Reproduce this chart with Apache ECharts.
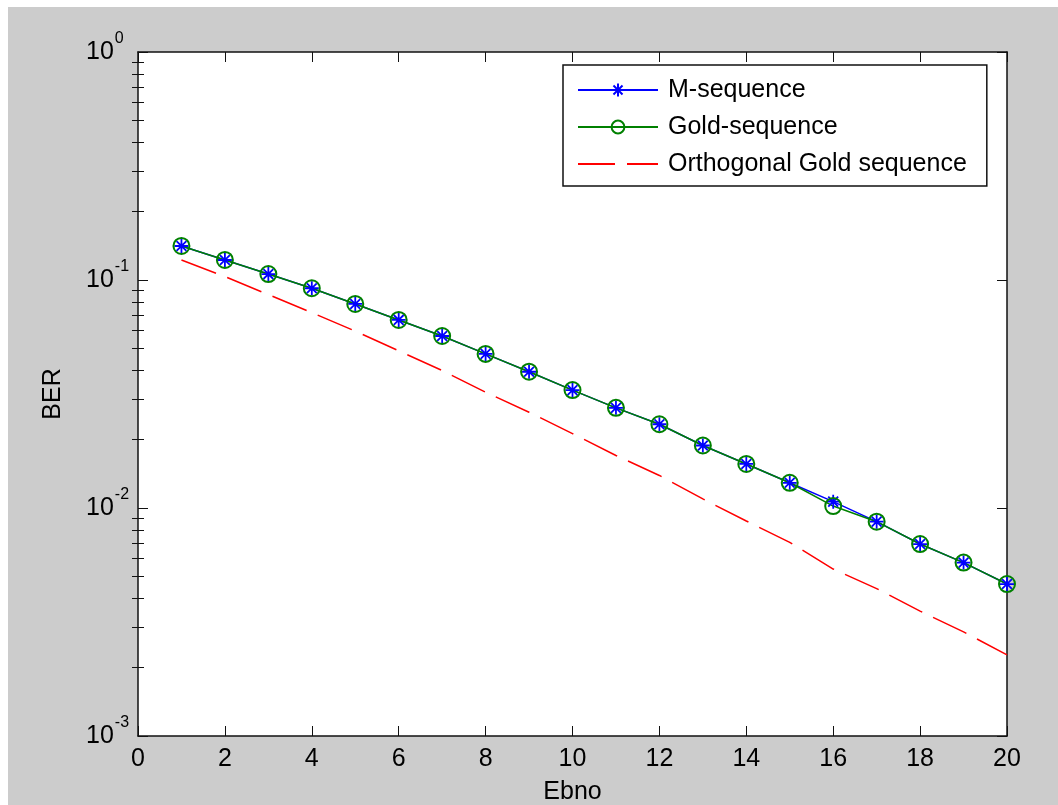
<!DOCTYPE html>
<html>
<head>
<meta charset="utf-8">
<script src="https://cdn.jsdelivr.net/npm/echarts@6/dist/echarts.min.js"></script>
<style>
html,body{margin:0;padding:0;background:#ffffff;width:1058px;height:805px;overflow:hidden;}
#chart{position:absolute;left:8px;top:7px;width:1050px;height:798px;background:#cccccc;}
</style>
</head>
<body>
<div id="chart"></div>
<script>
// ---- data ----
var ebno = [1,2,3,4,5,6,7,8,9,10,11,12,13,14,15,16,17,18,19,20];
var mSequence = [0.1410,0.1224,0.1062,0.0920,0.0785,0.0668,0.0568,0.0474,0.0396,0.0329,0.0275,0.0233,0.0188,0.0156,0.0129,0.01066,0.00871,0.00695,0.00576,0.00464];
var goldSequence = [0.1410,0.1224,0.1062,0.0920,0.0785,0.0668,0.0568,0.0474,0.0396,0.0329,0.0275,0.0233,0.0188,0.0156,0.0129,0.01020,0.00871,0.00695,0.00576,0.00464];
var orthGoldSequence = [0.1224,0.1035,0.0863,0.0719,0.0597,0.0489,0.0401,0.0322,0.0263,0.0212,0.0170,0.01389,0.01096,0.00877,0.00707,0.00540,0.00443,0.00353,0.00286,0.00227];
var seriesNames = ['M-sequence','Gold-sequence','Orthogonal Gold sequence'];
var xTicks = [0,2,4,6,8,10,12,14,16,18,20];
var yDecades = [0.001,0.01,0.1,1];
var yMinorTicks = [0.002,0.003,0.004,0.005,0.006,0.007,0.008,0.009,
                   0.02,0.03,0.04,0.05,0.06,0.07,0.08,0.09,
                   0.2,0.3,0.4,0.5,0.6,0.7,0.8,0.9];
var xName = 'Ebno';
var yName = 'BER';

function pairs(xs, ys){ return xs.map(function(x,i){ return [x, ys[i]]; }); }
var minorLog = yMinorTicks.map(function(v){ return Math.log10(v); });

var FONT = '"Liberation Sans", Arial, sans-serif';
var AX = '#111111';
var starPath = 'path://M0,-10L0,10M-10,0L10,0M-7.07,-7.07L7.07,7.07M-7.07,7.07L7.07,-7.07';

var chart = echarts.init(document.getElementById('chart'), null, {renderer:'canvas'});
var option = {
  backgroundColor: '#cccccc',
  animation: false,
  textStyle: {fontFamily: FONT},
  grid: {left:130, top:45, right:51, bottom:69, show:true, backgroundColor:'#ffffff', borderWidth:0,
         containLabel:false, outerBoundsMode:'none'},
  legend: {
    orient: 'vertical',
    left: 555, top: 58,
    padding: [11, 20, 8, 14],
    itemWidth: 80, itemHeight: 16, itemGap: 9,
    backgroundColor: '#ffffff',
    borderColor: AX, borderWidth: 1.5,
    textStyle: {fontSize: 25, color: '#000', fontFamily: FONT, lineHeight: 28, padding: [0,0,0,5]},
    data: [
      {name: seriesNames[0]},
      {name: seriesNames[1]},
      {name: seriesNames[2], itemStyle:{color:'rgba(0,0,0,0)', borderWidth:0, opacity:0}}
    ]
  },
  xAxis: [
    {type:'value', position:'bottom', min:0, max:20, interval:2,
     name: xName, nameLocation:'middle', nameGap:44,
     nameTextStyle:{fontSize:25, color:'#000', fontFamily:FONT},
     axisLine:{show:true, onZero:false, lineStyle:{color:AX, width:1.5}},
     axisTick:{show:true, inside:true, length:10, lineStyle:{color:AX, width:1}},
     axisLabel:{show:true, fontSize:25, color:'#000', fontFamily:FONT, margin:11, showMinLabel:true, showMaxLabel:true},
     splitLine:{show:false}},
    {type:'value', position:'top', min:0, max:20, interval:2,
     axisLine:{show:true, onZero:false, lineStyle:{color:AX, width:1.5}},
     axisTick:{show:true, inside:true, length:10, lineStyle:{color:AX, width:1}},
     axisLabel:{show:false}, splitLine:{show:false}}
  ],
  yAxis: [
    {type:'log', logBase:10, min:0.001, max:1, position:'left',
     name: yName, nameLocation:'middle', nameGap:72, nameRotate:90,
     nameTextStyle:{fontSize:25, color:'#000', fontFamily:FONT},
     axisLine:{show:true, onZero:false, lineStyle:{color:AX, width:1.5}},
     axisTick:{show:true, inside:true, length:10, lineStyle:{color:AX, width:1}},
     axisLabel:{show:true, margin:52, align:'left', color:'#000',
       formatter:function(v){ var e=Math.round(Math.log10(v)); return '{b|10}{s|'+e+'}'; },
       rich:{
         b:{fontSize:25, lineHeight:25, fontFamily:FONT, color:'#000', padding:[8,0,8,0]},
         s:{fontSize:16, lineHeight:16, fontFamily:FONT, color:'#000', padding:[0,0,27,1]}
       }},
     splitLine:{show:false}, minorTick:{show:false}},
    {type:'log', logBase:10, min:0.001, max:1, position:'right',
     axisLine:{show:true, onZero:false, lineStyle:{color:AX, width:1.5}},
     axisTick:{show:true, inside:true, length:10, lineStyle:{color:AX, width:1}},
     axisLabel:{show:false}, splitLine:{show:false}},
    {type:'value', min:-3, max:0, position:'left',
     axisLine:{show:false}, axisLabel:{show:false}, splitLine:{show:false},
     axisTick:{show:true, inside:true, length:6, customValues:minorLog, lineStyle:{color:AX, width:1}}},
    {type:'value', min:-3, max:0, position:'right',
     axisLine:{show:false}, axisLabel:{show:false}, splitLine:{show:false},
     axisTick:{show:true, inside:true, length:6, customValues:minorLog, lineStyle:{color:AX, width:1}}}
  ],
  series: [
    {name: seriesNames[0], type:'line', xAxisIndex:0, yAxisIndex:0,
     data: pairs(ebno, mSequence),
     symbol: starPath, symbolSize: 14, showAllSymbol: true,
     lineStyle:{color:'#0000ff', width:1.5},
     itemStyle:{color:'#0000ff', borderColor:'#0000ff', borderWidth:1.8},
     emphasis:{disabled:true}},
    {name: seriesNames[1], type:'line', xAxisIndex:0, yAxisIndex:0,
     data: pairs(ebno, goldSequence),
     symbol: 'circle', symbolSize: 16, showAllSymbol: true,
     lineStyle:{color:'#008000', width:1.5},
     itemStyle:{color:'rgba(0,0,0,0)', borderColor:'#008000', borderWidth:2},
     emphasis:{disabled:true}},
    {name: seriesNames[2], type:'line', xAxisIndex:0, yAxisIndex:0,
     data: pairs(ebno, orthGoldSequence),
     symbol: 'none',
     lineStyle:{color:'#ff0000', width:1.5, type:[37,12]},
     itemStyle:{color:'#ff0000'},
     emphasis:{disabled:true}}
  ]
};
chart.setOption(option);
</script>
</body>
</html>
